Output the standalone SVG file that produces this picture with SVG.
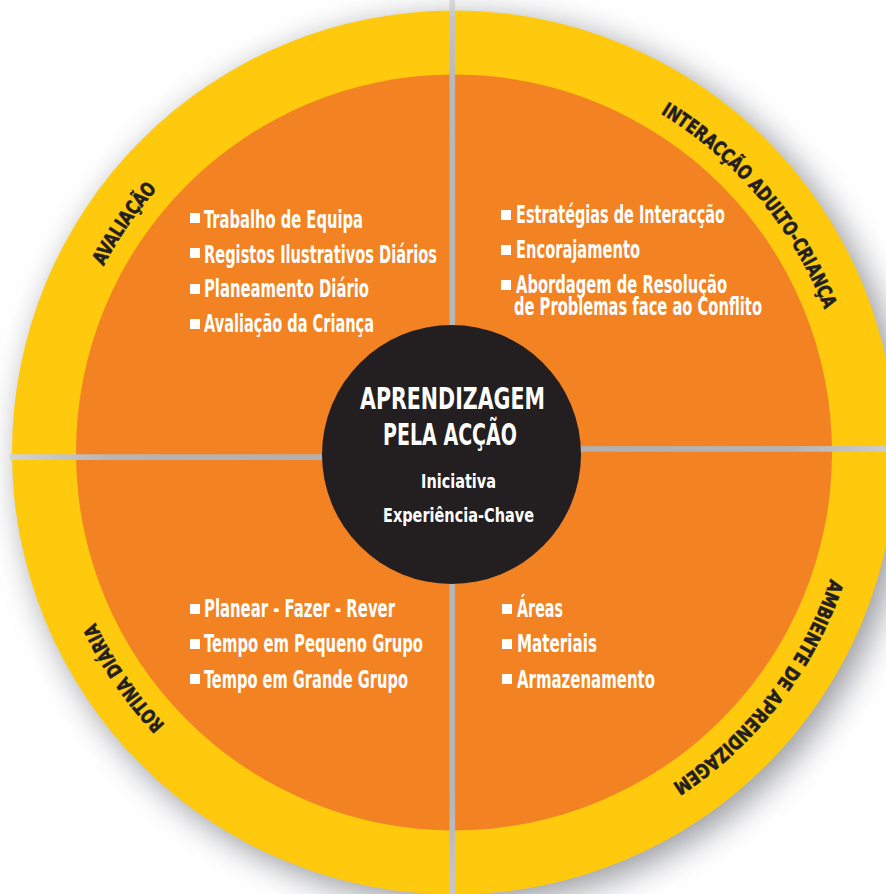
<svg xmlns="http://www.w3.org/2000/svg" width="886" height="894" viewBox="0 0 886 894">
<style>
.item{font-family:"Liberation Sans Narrow","DejaVu Sans Condensed",Roboto,sans-serif;font-weight:700;font-size:25px;fill:#ffffff}
.ring{font-family:"Liberation Sans Narrow","DejaVu Sans Condensed",Roboto,sans-serif;font-weight:700;font-size:19.5px;fill:#231f20;stroke:#231f20;stroke-width:0.6}
.title{font-family:"Liberation Sans Narrow","DejaVu Sans Condensed",Roboto,sans-serif;font-weight:700;font-size:30px;fill:#ffffff}
.sub{font-family:"Liberation Sans Narrow","DejaVu Sans Condensed",Roboto,sans-serif;font-weight:700;font-size:19.5px;fill:#ffffff}
.bul{fill:#ffffff}
</style>
<defs>
<filter id="shadow" x="-20%" y="-20%" width="140%" height="140%">
<feGaussianBlur stdDeviation="16"/>
</filter>
<path id="arc" d="M 851,452.5 A 397,397 0 1,1 57,452.5 A 397,397 0 1,1 851,452.5"/>
<linearGradient id="gl" x1="0" y1="0" x2="1" y2="0">
<stop offset="0" stop-color="#d4d4d4"/>
<stop offset="0.3" stop-color="#b6b6b6"/>
<stop offset="1" stop-color="#b0b0b0"/>
</linearGradient>
<linearGradient id="gr" x1="0" y1="0" x2="1" y2="0">
<stop offset="0" stop-color="#b0b0b0"/>
<stop offset="0.7" stop-color="#b4b4b4"/>
<stop offset="1" stop-color="#cccccc"/>
</linearGradient>
<linearGradient id="gv" x1="0" y1="0" x2="0" y2="1">
<stop offset="0" stop-color="#d8d8d8"/>
<stop offset="0.02" stop-color="#c4c4c4"/>
<stop offset="0.1" stop-color="#b8b8b8"/>
<stop offset="0.9" stop-color="#b6b6b6"/>
<stop offset="1" stop-color="#c8c8c8"/>
</linearGradient>
</defs>
<rect width="886" height="894" fill="#ffffff"/>
<circle cx="463" cy="461" r="444" fill="#72757d" opacity="0.7" filter="url(#shadow)"/>
<g id="wheel">
<circle cx="454" cy="452.5" r="442" fill="#ffc90e"/>
<circle cx="454" cy="452.5" r="378" fill="#f38222"/>
</g>
<g id="connectors">
<rect x="449.5" y="0" width="5.6" height="894" fill="url(#gv)"/>
<rect x="10" y="454.3" width="330" height="5.7" fill="url(#gl)"/>
<rect x="565" y="446.1" width="321" height="5.6" fill="url(#gr)"/>
</g>
<g id="center">
<circle cx="451.5" cy="454.5" r="129.5" fill="#231f20"/>
<text class="title" x="360" y="409" textLength="185" lengthAdjust="spacingAndGlyphs">APRENDIZAGEM</text>
<text class="title" x="383" y="445" textLength="134" lengthAdjust="spacingAndGlyphs">PELA ACÇÃO</text>
<text class="sub" x="421" y="488" textLength="75" lengthAdjust="spacingAndGlyphs">Iniciativa</text>
<text class="sub" x="383" y="522" textLength="151" lengthAdjust="spacingAndGlyphs">Experiência-Chave</text>
</g>
<g id="q-avaliacao">
<rect class="bul" x="190" y="213" width="10" height="10"/>
<rect class="bul" x="190" y="248" width="10" height="10"/>
<rect class="bul" x="190" y="284" width="10" height="10"/>
<rect class="bul" x="190" y="319" width="10" height="10"/>
<text class="item" x="204" y="228" textLength="159" lengthAdjust="spacingAndGlyphs">Trabalho de Equipa</text>
<text class="item" x="204" y="262.5" textLength="233" lengthAdjust="spacingAndGlyphs">Registos Ilustrativos Diários</text>
<text class="item" x="204" y="297" textLength="165" lengthAdjust="spacingAndGlyphs">Planeamento Diário</text>
<text class="item" x="204" y="332" textLength="170" lengthAdjust="spacingAndGlyphs">Avaliação da Criança</text>
<text class="ring" text-anchor="middle"><textPath href="#arc" startOffset="1487.6" textLength="94" lengthAdjust="spacingAndGlyphs">AVALIAÇÃO</textPath></text>
</g>
<g id="q-interaccao">
<rect class="bul" x="501" y="210" width="10" height="10"/>
<rect class="bul" x="501" y="245" width="10" height="10"/>
<rect class="bul" x="501" y="280" width="10" height="10"/>
<text class="item" x="516" y="223" textLength="209" lengthAdjust="spacingAndGlyphs">Estratégias de Interacção</text>
<text class="item" x="516" y="258" textLength="124" lengthAdjust="spacingAndGlyphs">Encorajamento</text>
<text class="item" x="516" y="293" textLength="211" lengthAdjust="spacingAndGlyphs">Abordagem de Resolução</text>
<text class="item" x="514" y="315" textLength="248" lengthAdjust="spacingAndGlyphs">de Problemas face ao Conflito</text>
<text class="ring" text-anchor="middle"><textPath href="#arc" startOffset="2217.3" textLength="260" lengthAdjust="spacingAndGlyphs">INTERACÇÃO ADULTO-CRIANÇA</textPath></text>
</g>
<g id="q-rotina">
<rect class="bul" x="190" y="604" width="10" height="10"/>
<rect class="bul" x="190" y="639" width="10" height="10"/>
<rect class="bul" x="190" y="674" width="10" height="10"/>
<text class="item" x="204" y="617" textLength="191" lengthAdjust="spacingAndGlyphs">Planear - Fazer - Rever</text>
<text class="item" x="204" y="652" textLength="219" lengthAdjust="spacingAndGlyphs">Tempo em Pequeno Grupo</text>
<text class="item" x="204" y="688" textLength="204" lengthAdjust="spacingAndGlyphs">Tempo em Grande Grupo</text>
<text class="ring" text-anchor="middle"><textPath href="#arc" startOffset="1008.9" textLength="124" lengthAdjust="spacingAndGlyphs">ROTINA DIÁRIA</textPath></text>
</g>
<g id="q-ambiente">
<rect class="bul" x="502" y="604" width="10" height="10"/>
<rect class="bul" x="502" y="639" width="10" height="10"/>
<rect class="bul" x="502" y="674" width="10" height="10"/>
<text class="item" x="517" y="617" textLength="46" lengthAdjust="spacingAndGlyphs">Áreas</text>
<text class="item" x="517" y="652" textLength="80" lengthAdjust="spacingAndGlyphs">Materiais</text>
<text class="item" x="517" y="688" textLength="138" lengthAdjust="spacingAndGlyphs">Armazenamento</text>
<text class="ring" text-anchor="middle"><textPath href="#arc" startOffset="260.5" textLength="264" lengthAdjust="spacingAndGlyphs">AMBIENTE DE APRENDIZAGEM</textPath></text>
</g>
</svg>
